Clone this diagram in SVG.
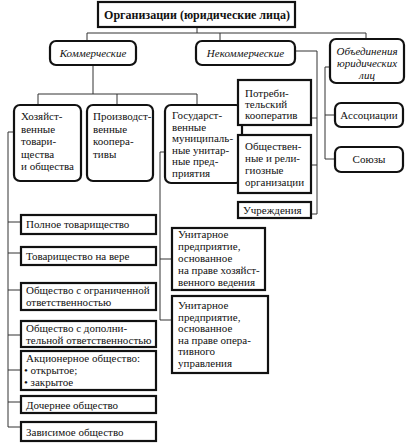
<svg xmlns="http://www.w3.org/2000/svg" width="411" height="446" viewBox="0 0 411 446">
<style>
.b{fill:#fff;stroke:#111;stroke-width:2.2}
.c{fill:none;stroke:#333;stroke-width:1}
text{font-family:"Liberation Serif","Times New Roman",serif;font-size:11px;fill:#111}
.t{font-weight:bold;font-size:12px}
.i{font-style:italic;text-anchor:middle}
.m{text-anchor:middle}
</style>
<rect width="411" height="446" fill="#fff"/>
<g id="connectors">
<path class="c" d="M197,27V33M87,33H366M87,33V41M220,33V41M366,33V39"/>
<path class="c" d="M93,65V94M38,94H197M38,94V105M117,94V105M197,94V105"/>
<path class="c" d="M14,132H8V427H21M8,222H21M8,253H21M8,290H21M8,335H21M8,370H21M8,402H21"/>
<path class="c" d="M165,152H160V320H172M160,259H172"/>
<path class="c" d="M295,51H317V214H312M311,118H317M311,165H317"/>
<path class="c" d="M330,67H325V159H335M325,115H335"/>
</g>
<g id="root"><rect class="b" x="98" y="2" width="197" height="25"/><text class="t m" x="197" y="19">Организации (юридические лица)</text></g>
<g id="commercial"><rect class="b" x="50" y="41" width="86" height="24" rx="6"/><text class="i" x="93" y="57">Коммерческие</text></g>
<g id="noncommercial"><rect class="b" x="196" y="41" width="99" height="24" rx="6"/><text class="i" x="245.5" y="57">Некоммерческие</text></g>
<g id="unions"><rect class="b" x="330" y="39" width="74" height="44" rx="6"/><text class="i" x="367" y="55">Объединения</text><text class="i" x="367" y="67">юридических</text><text class="i" x="367" y="79">лиц</text></g>
<g id="hoz"><rect class="b" x="14" y="105" width="67" height="76" rx="6"/><text x="21" y="120"><tspan x="21">Хозяйст-</tspan><tspan x="21" dy="12.5">венные</tspan><tspan x="21" dy="12.5">товари-</tspan><tspan x="21" dy="12.5">щества</tspan><tspan x="21" dy="12.5">и общества</tspan></text></g>
<g id="proizv"><rect class="b" x="87" y="105" width="66" height="76" rx="6"/><text x="93" y="120"><tspan x="93">Производст-</tspan><tspan x="93" dy="12.5">венные</tspan><tspan x="93" dy="12.5">коопера-</tspan><tspan x="93" dy="12.5">тивы</tspan></text></g>
<g id="gos"><rect class="b" x="165" y="105" width="77" height="78" rx="6"/><text x="172" y="119"><tspan x="172">Государст-</tspan><tspan x="172" dy="11.5">венные</tspan><tspan x="172" dy="11.5">муниципаль-</tspan><tspan x="172" dy="11.5">ные унитар-</tspan><tspan x="172" dy="11.5">ные пред-</tspan><tspan x="172" dy="11.5">приятия</tspan></text></g>
<g id="potreb"><rect class="b" x="238" y="80" width="73" height="45"/><text x="245" y="97"><tspan x="245">Потреби-</tspan><tspan x="245" dy="11">тельский</tspan><tspan x="245" dy="11">кооператив</tspan></text></g>
<g id="obsch"><rect class="b" x="238" y="135" width="73" height="58"/><text x="245" y="150"><tspan x="245">Обществен-</tspan><tspan x="245" dy="12">ные и рели-</tspan><tspan x="245" dy="12">гиозные</tspan><tspan x="245" dy="12">организации</tspan></text></g>
<g id="uchr"><rect class="b" x="238" y="202" width="73" height="16"/><text x="243" y="214">Учреждения</text></g>
<g id="assoc"><rect class="b" x="335" y="103" width="68" height="24" rx="6"/><text class="m" x="369" y="119">Ассоциации</text></g>
<g id="soyuzy"><rect class="b" x="335" y="147" width="68" height="25" rx="6"/><text class="m" x="369" y="163">Союзы</text></g>
<g id="polnoe"><rect class="b" x="21" y="215" width="135" height="19"/><text x="26" y="228">Полное товарищество</text></g>
<g id="vera"><rect class="b" x="21" y="247" width="135" height="18"/><text x="26" y="260">Товарищество на вере</text></g>
<g id="ooo"><rect class="b" x="21" y="283" width="135" height="27"/><text x="26" y="294"><tspan x="26">Общество с ограниченной</tspan><tspan x="26" dy="12">ответственностью</tspan></text></g>
<g id="odo"><rect class="b" x="21" y="321" width="135" height="26"/><text x="26" y="332"><tspan x="26">Общество с дополни-</tspan><tspan x="26" dy="12">тельной ответственностью</tspan></text></g>
<g id="ao"><rect class="b" x="21" y="351" width="135" height="39"/><text x="26" y="362"><tspan x="26">Акционерное общество:</tspan><tspan x="24" dy="12">• открытое;</tspan><tspan x="24" dy="12">• закрытое</tspan></text></g>
<g id="dochernee"><rect class="b" x="21" y="396" width="135" height="17"/><text x="26" y="409">Дочернее общество</text></g>
<g id="zavisimoe"><rect class="b" x="21" y="422" width="135" height="19"/><text x="26" y="436">Зависимое общество</text></g>
<g id="up1"><rect class="b" x="172" y="228" width="93" height="62"/><text x="178" y="238"><tspan x="178">Унитарное</tspan><tspan x="178" dy="12">предприятие,</tspan><tspan x="178" dy="12">основанное</tspan><tspan x="178" dy="12">на праве хозяйст-</tspan><tspan x="178" dy="12">венного ведения</tspan></text></g>
<g id="up2"><rect class="b" x="172" y="296" width="96" height="77"/><text x="178" y="309"><tspan x="178">Унитарное</tspan><tspan x="178" dy="11.6">предприятие,</tspan><tspan x="178" dy="11.6">основанное</tspan><tspan x="178" dy="11.6">на праве опера-</tspan><tspan x="178" dy="11.6">тивного</tspan><tspan x="178" dy="11.6">управления</tspan></text></g>
</svg>
